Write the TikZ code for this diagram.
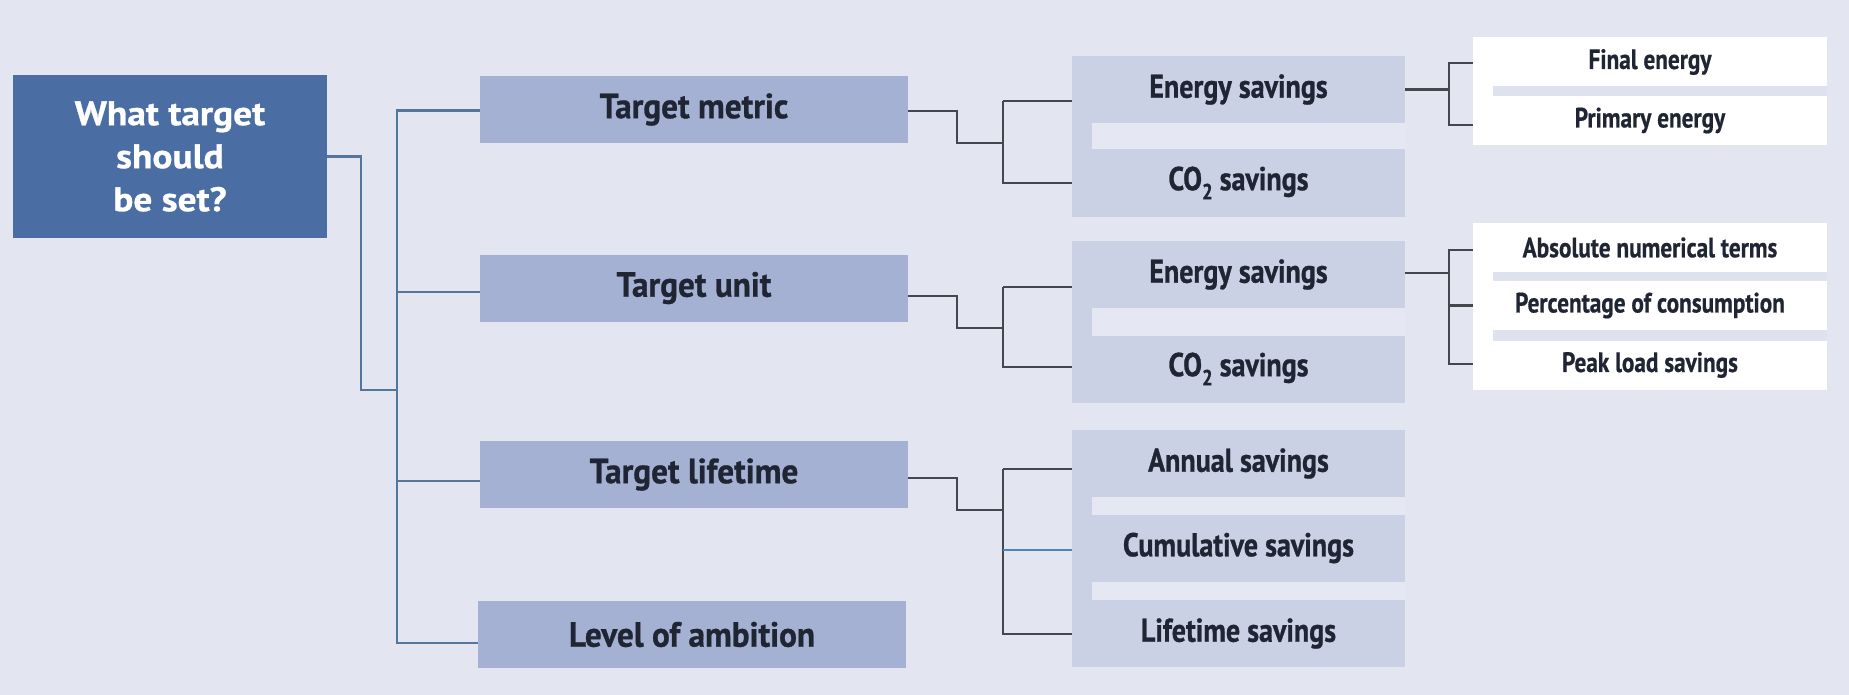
\documentclass[tikz,border=0pt]{standalone}
\usepackage{fontspec}
\setmainfont{PT Sans}
\newfontfamily\rootf[FakeStretch=1.1,FakeBold=0.8]{PT Sans}
\newfontfamily\wideb[FakeStretch=0.95,FakeBold=0.8]{PT Sans}
\newfontfamily\condb[FakeStretch=0.85,FakeBold=0.8]{PT Sans}
\newfontfamily\condc[FakeStretch=0.83,FakeBold=0.6]{PT Sans}
\definecolor{bgc}{HTML}{E3E6F0}
\definecolor{mainc}{HTML}{4A6EA3}
\definecolor{lonec}{HTML}{A4B1D3}
\definecolor{ltwoc}{HTML}{CBD1E5}
\definecolor{gapc}{HTML}{E5E8F2}
\definecolor{lthreegap}{HTML}{DDE2EE}
\definecolor{txtc}{HTML}{1F2533}
\definecolor{trunkc}{HTML}{55759A}
\definecolor{darkc}{HTML}{45474F}
\definecolor{bluec}{HTML}{4A86B5}
\tikzset{
  box/.style={rectangle, inner sep=0pt, outer sep=0pt, align=center, text=txtc},
  mainbox/.style={box, fill=mainc, text=white, minimum width=314pt, minimum height=163pt,
     font=\rootf\bfseries\fontsize{34}{43}\selectfont},
  lonebox/.style={box, fill=lonec, minimum width=428pt, minimum height=67pt,
     font=\wideb\bfseries\fontsize{35}{40}\selectfont},
  ltwobox/.style={box, fill=ltwoc, minimum width=333pt, minimum height=67pt,
     font=\condb\bfseries\fontsize{33}{36}\selectfont},
  lthreebox/.style={box, fill=white, minimum width=354pt, minimum height=49pt,
     font=\condc\bfseries\fontsize{28}{30}\selectfont},
  trunkline/.style={draw=trunkc, line width=2.2pt},
  darkline/.style={draw=darkc, line width=2.2pt},
  blueline/.style={draw=bluec, line width=2pt},
}
\newcommand{\cotwo}{CO\raisebox{-0.28em}{\fontsize{22}{22}\selectfont 2}}
\begin{document}
\begin{tikzpicture}[x=1pt,y=-1pt]
\fill[bgc] (0,0) rectangle (1849,695);
\useasboundingbox (0,0) rectangle (1849,695);

% root
\node[mainbox] (main) at (170,156.5) {What target\\should\\be set?};

% level 1
\node[lonebox] (tm) at (694,109.5) {Target metric};
\node[lonebox] (tu) at (694,288) {Target unit};
\node[lonebox] (tl) at (694,474.5) {Target lifetime};
\node[lonebox] (la) at (692,634.5) {Level of ambition};

% level 2
\node[ltwobox] (es1) at (1238.5,89.5) {Energy savings};
\node[ltwobox] (co1) at (1238.5,183) {\cotwo\ savings};
\node[ltwobox] (es2) at (1238.5,274.5) {Energy savings};
\node[ltwobox] (co2) at (1238.5,369) {\cotwo\ savings};
\node[ltwobox] (an) at (1238.5,463.5) {Annual savings};
\node[ltwobox] (cu) at (1238.5,548) {Cumulative savings};
\node[ltwobox] (li) at (1238.5,633.5) {Lifetime savings};
\fill[ltwoc] (es1.south west) rectangle ([xshift=20pt]co1.north west);
\fill[gapc] ([xshift=20pt]es1.south west) rectangle (co1.north east);
\fill[ltwoc] (es2.south west) rectangle ([xshift=20pt]co2.north west);
\fill[gapc] ([xshift=20pt]es2.south west) rectangle (co2.north east);
\fill[ltwoc] (an.south west) rectangle ([xshift=20pt]cu.north west);
\fill[gapc] ([xshift=20pt]an.south west) rectangle (cu.north east);
\fill[ltwoc] (cu.south west) rectangle ([xshift=20pt]li.north west);
\fill[gapc] ([xshift=20pt]cu.south west) rectangle (li.north east);

% level 3
\node[lthreebox] (fe) at (1650,62) {Final energy};
\node[lthreebox] (pe) at (1650,120.5) {Primary energy};
\node[lthreebox] (ab) at (1650,247.5) {Absolute numerical terms};
\node[lthreebox] (pc) at (1650,305.5) {Percentage of consumption};
\node[lthreebox] (pk) at (1650,365) {Peak load savings};
\fill[white] (fe.south west) rectangle ([xshift=20pt]pe.north west);
\fill[lthreegap] ([xshift=20pt]fe.south west) rectangle (pe.north east);
\fill[white] (ab.south west) rectangle ([xshift=20pt]pc.north west);
\fill[lthreegap] ([xshift=20pt]ab.south west) rectangle (pc.north east);
\fill[white] (pc.south west) rectangle ([xshift=20pt]pk.north west);
\fill[lthreegap] ([xshift=20pt]pc.south west) rectangle (pk.north east);

% junction coordinates
\coordinate (rj) at (361,390);
\coordinate (tx) at (397,0);
\coordinate (mx1) at (957,0);
\coordinate (bx1) at (1003,0);
\coordinate (bx2) at (1449,0);

% root to trunk
\draw[trunkline] (main.east) -| (rj) -- (rj -| tx);
\draw[trunkline] ([yshift=-1pt]tm.west) -| (tx |- la.west) -- ([yshift=-8.5pt]la.west -| tx) -- ([yshift=-8.5pt]la.west);
\draw[trunkline] ([yshift=-4pt]tu.west -| tx) -- ([yshift=-4pt]tu.west);
\draw[trunkline] ([yshift=-6.5pt]tl.west -| tx) -- ([yshift=-6.5pt]tl.west);

% level 1 to level 2
\draw[darkline] ([yshift=-1.5pt]tm.east) -- ([yshift=-1.5pt]tm.east -| mx1) -- ([yshift=-33.5pt]tm.east -| mx1) -- ([yshift=-33.5pt]tm.east -| bx1);
\draw[darkline] ([yshift=-11.5pt]es1.west -| bx1) -- ([yshift=-11.5pt]es1.west);
\draw[darkline] ([yshift=-11.5pt]es1.west -| bx1) -- (co1.west -| bx1) -- (co1.west);

\draw[darkline] ([yshift=-8pt]tu.east) -- ([yshift=-8pt]tu.east -| mx1) -- ([yshift=-40pt]tu.east -| mx1) -- ([yshift=-40pt]tu.east -| bx1);
\draw[darkline] ([yshift=-12.5pt]es2.west -| bx1) -- ([yshift=-12.5pt]es2.west);
\draw[darkline] ([yshift=-12.5pt]es2.west -| bx1) -- ([yshift=2pt]co2.west -| bx1) -- ([yshift=2pt]co2.west);

\draw[darkline] ([yshift=-3.5pt]tl.east) -- ([yshift=-3.5pt]tl.east -| mx1) -- ([yshift=-35.5pt]tl.east -| mx1) -- ([yshift=-35.5pt]tl.east -| bx1);
\draw[darkline] ([yshift=-5.5pt]an.west -| bx1) -- ([yshift=-5.5pt]an.west);
\draw[darkline] ([yshift=-5.5pt]an.west -| bx1) -- ([yshift=-0.5pt]li.west -| bx1) -- ([yshift=-0.5pt]li.west);
\draw[blueline] ([yshift=-2pt]cu.west -| bx1) -- ([yshift=-2pt]cu.west);

% level 2 to level 3
\draw[darkline] (es1.east) -- (es1.east -| bx2);
\draw[darkline] ([yshift=-1pt]fe.west) -| ([yshift=-4.5pt]pe.west -| bx2) -- ([yshift=-4.5pt]pe.west);
\draw[darkline] ([yshift=1.5pt]es2.east) -- ([yshift=1.5pt]es2.east -| bx2);
\draw[darkline] ([yshift=-2.5pt]ab.west) -| ([yshift=1pt]pk.west -| bx2) -- ([yshift=1pt]pk.west);
\draw[darkline] (pc.west -| bx2) -- (pc.west);
\end{tikzpicture}
\end{document}
